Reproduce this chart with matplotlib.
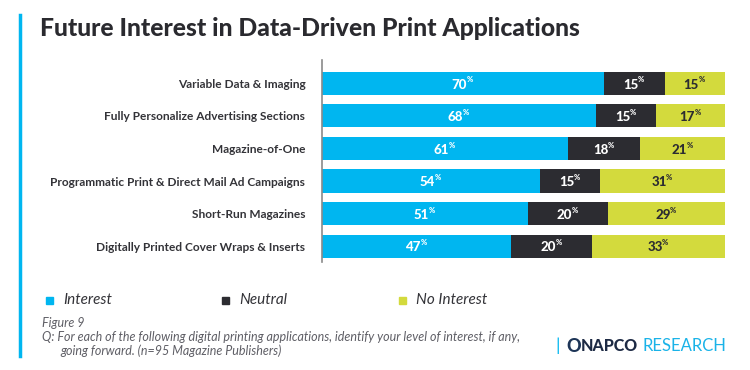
import numpy as np
import matplotlib.pyplot as plt
from matplotlib.lines import Line2D
from matplotlib.patches import Rectangle

plt.rcParams['font.family'] = ['Lato', 'DejaVu Sans']

categories = ['Variable Data & Imaging',
              'Fully Personalize Advertising Sections',
              'Magazine-of-One',
              'Programmatic Print & Direct Mail Ad Campaigns',
              'Short-Run Magazines',
              'Digitally Printed Cover Wraps & Inserts']
interest = [70, 68, 61, 54, 51, 47]
neutral = [15, 15, 18, 15, 20, 20]
no_interest = [15, 17, 21, 31, 29, 33]
series_names = ['Interest', 'Neutral', 'No Interest']

colors = ['#00b6f0', '#2c2c31', '#d3da3d']
text_colors = ['white', 'white', '#2c2c31']
dark = '#333338'
grey = '#5f5f66'

W, H = 750, 370
fig = plt.figure(figsize=(7.5, 3.7), dpi=100)
fig.patch.set_facecolor('white')

ax = fig.add_axes([322 / W, 1 - 262 / H, (725 - 322) / W, 202 / H])
y = np.arange(len(categories))
left = np.zeros(len(categories))
for vals, c, tc in zip([interest, neutral, no_interest], colors, text_colors):
    vals = np.array(vals, dtype=float)
    ax.barh(y, vals, left=left, height=0.71, color=c, edgecolor='none')
    for yi, l, v in zip(y, left, vals):
        xc = l + v / 2
        ax.annotate('%d' % v, (xc, yi), xytext=(3, -1), textcoords='offset points',
                    ha='right', va='center', color=tc, fontsize=9.5,
                    fontweight='black')
        ax.annotate('%', (xc, yi), xytext=(2.6, 2.5), textcoords='offset points',
                    ha='left', va='center', color=tc, fontsize=5.5,
                    fontweight='black')
    left += vals

ax.set_xlim(0, 100)
ax.set_ylim(5.49, -0.72)
ax.set_yticks(y)
ax.set_yticklabels(categories, fontsize=8.6, fontweight='bold', color=dark)
ax.tick_params(axis='y', length=0, pad=12)
ax.set_xticks([])
for s in ['top', 'right', 'bottom']:
    ax.spines[s].set_visible(False)
ax.spines['left'].set_color('#8a8a8a')
ax.spines['left'].set_linewidth(1.2)

# left accent line
fig.add_artist(Line2D([20 / W, 20 / W], [1 - 15 / H, 1 - 356 / H],
                      color='#00b6f0', lw=2.5))

fig.text(40 / W, 1 - 28 / H, 'Future Interest in Data-Driven Print Applications',
         fontsize=17.8, fontweight='black', color='#2a2a2f', va='center')

# legend
for name, c, x0 in zip(series_names, colors, [46, 222, 399]):
    fig.add_artist(Rectangle((x0 / W, 1 - 304 / H), 7 / W, 7 / H,
                             color=c, transform=fig.transFigure))
    fig.text((x0 + 17) / W, 1 - 300 / H, name, fontsize=11, style='italic',
             color=dark, va='center')

fig.text(42 / W, 1 - 323 / H, 'Figure 9', fontsize=9, style='italic',
         color=grey, va='center')
fig.text(42 / W, 1 - 337 / H,
         'Q: For each of the following digital printing applications, '
         'identify your level of interest, if any,',
         fontsize=9, style='italic', color=grey, va='center')
fig.text(60 / W, 1 - 351 / H,
         'going forward. (n=95 Magazine Publishers)',
         fontsize=9, style='italic', color=grey, va='center')

# logo
fig.text(558 / W, 1 - 346 / H, '|', fontsize=13, color='#00b6f0',
         va='center', ha='center')
fig.text(566 / W, 1 - 346 / H, 'O', fontsize=13, color='#1d3557',
         fontweight='black', va='center')
fig.text(581 / W, 1 - 346 / H, 'NAPCO', fontsize=11.5, color='#1d2a44',
         fontweight='black', va='center')
fig.text(643 / W, 1 - 346 / H, 'RESEARCH', fontsize=12, color='#1ab3e8',
         va='center')

fig.savefig('out.png', dpi=100)
